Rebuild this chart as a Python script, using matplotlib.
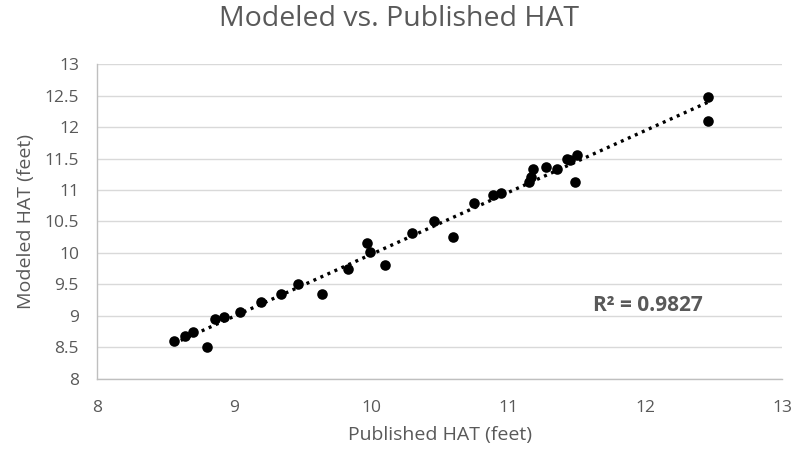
import numpy as np
import matplotlib.pyplot as plt

plt.rcParams['font.family'] = ['Open Sans', 'DejaVu Sans']

# Published HAT (x) vs Modeled HAT (y), feet
published = [8.56, 8.64, 8.70, 8.80, 8.86, 8.93, 9.04, 9.20, 9.34, 9.47, 9.64,
             9.83, 9.97, 9.99, 10.10, 10.30, 10.46, 10.60, 10.75, 10.89, 10.95,
             11.15, 11.17, 11.18, 11.28, 11.36, 11.43, 11.45, 11.49, 11.50,
             12.46, 12.46]
modeled = [8.60, 8.68, 8.74, 8.50, 8.95, 8.99, 9.07, 9.22, 9.35, 9.50, 9.35,
           9.75, 10.16, 10.02, 9.81, 10.32, 10.51, 10.26, 10.79, 10.92, 10.95,
           11.13, 11.21, 11.34, 11.37, 11.34, 11.49, 11.47, 11.13, 11.55,
           12.48, 12.09]
r2_label = 0.9827  # as printed on the chart

x_ticks = [8, 9, 10, 11, 12, 13]
y_ticks = [8, 8.5, 9, 9.5, 10, 10.5, 11, 11.5, 12, 12.5, 13]

gray = '#595959'

fig = plt.figure(figsize=(7.98, 4.53), dpi=100)
ax = fig.add_axes([0.1216, 0.1634, 0.8584, 0.6953])

x = np.array(published)
y = np.array(modeled)
# linear trendline
slope, intercept = np.polyfit(x, y, 1)
xs = np.array([x.min(), x.max()])
ax.plot(xs, slope * xs + intercept, color='black', lw=2.4,
        linestyle=(0, (0.9, 1.4)), zorder=2)

ax.scatter(x, y, s=58, color='black', zorder=3, linewidths=0)

ax.set_xlim(8, 13)
ax.set_ylim(8, 13)
ax.set_xticks(x_ticks)
ax.set_yticks(y_ticks)
ax.set_yticklabels([f'{v:g}' for v in y_ticks])
ax.tick_params(length=0, labelsize=12.5, labelcolor=gray)
ax.tick_params(axis='x', pad=15)
ax.tick_params(axis='y', pad=13)
ax.grid(axis='y', color='#d9d9d9', lw=1)
ax.set_axisbelow(True)
for s in ['top', 'right']:
    ax.spines[s].set_visible(False)
for s in ['left', 'bottom']:
    ax.spines[s].set_color('#bfbfbf')
    ax.spines[s].set_linewidth(1)

ax.set_xlabel('Published HAT (feet)', fontsize=14, color=gray, labelpad=7)
ax.set_ylabel('Modeled HAT (feet)', fontsize=14, color=gray, labelpad=7)
fig.text(0.5, 0.958, 'Modeled vs. Published HAT', ha='center', va='center',
         fontsize=20.5, color=gray)

ax.text(12.02, 9.17, f'R² = {r2_label:.4f}', fontsize=15, fontweight='bold',
        color=gray, ha='center', va='center')

fig.savefig('out.png', dpi=100)
